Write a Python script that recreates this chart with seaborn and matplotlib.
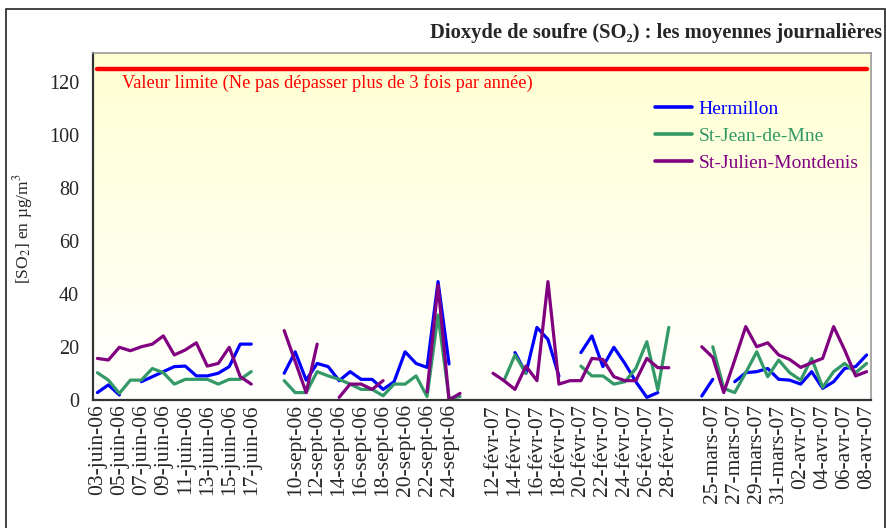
# Dioxyde de soufre - moyennes journalières
import numpy as np
import pandas as pd
import matplotlib.pyplot as plt
import seaborn as sns
from matplotlib.lines import Line2D
from matplotlib.patches import Rectangle

nan = np.nan

# catégories (jours), avec des cases vides entre les campagnes
dates = ([f"{d:02d}-juin-06" for d in range(3, 18)] + ["", ""]
         + [f"{d:02d}-sept-06" for d in range(9, 26)] + ["", ""]
         + [f"{d:02d}-févr-07" for d in range(12, 29)] + ["", ""]
         + [f"{d:02d}-mars-07" for d in range(24, 32)]
         + [f"{d:02d}-avr-07" for d in range(1, 9)])

hermillon = [2.8, 5.7, 1.9, nan, 6.9, 8.8, 10.7, 12.6, 12.8, 9.1, 9.1, 10.1, 12.6, 21.1, 21.1,
             nan, nan,
             10.1, 18.2, 7.5, 13.8, 12.6, 7.3, 10.7, 7.8, 7.8, 4.0, 6.9, 18.2, 13.8, 12.3, 44.7, 13.6, nan,
             nan, nan,
             nan, nan, 17.9, 10.1, 27.4, 22.9, 9.0, nan, 17.9, 24.2, 12.6, 19.9, 13.8, 6.9, 1.0, 2.8, nan,
             nan, nan,
             1.5, 7.8, nan, 6.9, 10.3, 10.7, 11.9, 7.8, 7.5, 6.0, 10.7, 4.4, 6.9, 11.9, 12.6, 17.0]

stjean = [10.3, 7.5, 2.5, 7.5, 7.5, 11.9, 10.3, 6.0, 7.8, 7.8, 7.8, 6.0, 7.8, 7.8, 10.7,
          nan, nan,
          7.3, 2.8, 2.8, 10.7, 9.1, 7.8, 6.0, 4.0, 4.0, 1.6, 6.0, 6.0, 9.1, 1.3, 32.1, 0.6, 1.3,
          nan, nan,
          nan, 7.3, 17.0, 10.1, nan, nan, nan, nan, 12.8, 9.1, 9.1, 6.0, 6.9, 11.9, 22.0, 3.8, 27.4,
          nan, nan,
          nan, 20.1, 4.4, 2.8, 10.3, 18.2, 8.8, 15.1, 10.3, 7.5, 15.7, 4.8, 10.7, 13.8, 10.3, 13.8]

stjulien = [15.7, 15.1, 19.9, 18.6, 20.1, 21.1, 24.2, 17.0, 18.9, 21.6, 12.8, 13.8, 19.9, 8.8, 6.0,
            nan, nan,
            26.2, 14.5, 2.8, 21.1, nan, 1.0, 6.0, 6.0, 4.0, 7.3, nan, nan, nan, 3.1, 43.4, 0.0, 2.5,
            nan, nan,
            10.1, 7.3, 4.0, 12.8, 7.3, 44.7, 6.0, 7.3, 7.3, 15.7, 15.3, 8.8, 7.3, 7.3, 15.7, 12.2, 12.2,
            nan, nan,
            20.1, 16.1, 2.8, 15.1, 27.7, 20.1, 21.6, 17.0, 15.3, 12.3, 14.1, 15.7, 27.7, 18.9, 9.1, 10.7]

limite = [125] * len(dates)

sites = ["Hermillon", "St-Jean-de-Mne", "St-Julien-Montdenis"]
couleurs = {"Hermillon": "#0000FF", "St-Jean-de-Mne": "#339966",
            "St-Julien-Montdenis": "#800080"}

# tableau long, un segment par suite de valeurs sans trou
rows = []
for site, vals in zip(sites, [hermillon, stjean, stjulien]):
    seg = 0
    for i, v in enumerate(vals):
        if np.isnan(v):
            seg += 1
            continue
        rows.append({"x": i, "val": v, "site": site, "seg": seg})
df = pd.DataFrame(rows)
df_lim = pd.DataFrame({"x": np.arange(len(dates)), "val": limite})

sns.set_style("white")
plt.rcParams["font.family"] = ["Liberation Serif", "DejaVu Serif"]
plt.rcParams["mathtext.fontset"] = "stix"

fig = plt.figure(figsize=(8.87, 5.28), dpi=100)
ax = fig.add_axes([93 / 887, 1 - 400 / 528, 778 / 887, 347 / 528])

xmin, xmax, ymax = -0.4, len(dates) - 0.6, 131
# fond dégradé jaune pâle -> blanc
grad = np.linspace(1, 0, 256).reshape(-1, 1)
cmap = sns.blend_palette(["#FFFFFF", "#FFFFD2"], as_cmap=True)
ax.imshow(grad, extent=[xmin, xmax, 0, ymax], aspect="auto", cmap=cmap,
          origin="upper", zorder=0)

sns.lineplot(data=df_lim, x="x", y="val", color="#FF0000", lw=3.2, ax=ax, zorder=3)
sns.lineplot(data=df, x="x", y="val", hue="site", units="seg", estimator=None,
             palette=couleurs, lw=2.3, legend=False, ax=ax, zorder=2)

ax.set_xlim(xmin, xmax)
ax.set_ylim(0, ymax)
ax.set_yticks(range(0, 121, 20))
ax.set_xticks(range(0, len(dates), 2))
ax.set_xticklabels(dates[::2], rotation=90, fontsize=15.5)
ax.tick_params(axis="y", labelsize=14.5, length=0, pad=10)
ax.tick_params(axis="x", length=0, pad=3)
ax.set_xlabel("")
ax.set_ylabel("[SO$_2$] en µg/m$^3$", fontsize=12.5)
ax.yaxis.set_label_coords(-0.074, 0.493)

for side in ["left", "bottom"]:
    ax.spines[side].set_color("#333333")
    ax.spines[side].set_linewidth(1.6)
for side in ["top", "right"]:
    ax.spines[side].set_color("#999999")
    ax.spines[side].set_linewidth(1.2)

ax.text(0.037, 0.914, "Valeur limite (Ne pas dépasser plus de 3 fois par année)",
        transform=ax.transAxes, color="#FF0000", fontsize=13.2, va="center")

handles = [Line2D([], [], color=couleurs[s], lw=2.6) for s in sites]
ax.legend(handles, sites, loc="upper left", bbox_to_anchor=(0.70, 0.913),
          frameon=False, fontsize=14, handlelength=1.9, handletextpad=0.35,
          labelspacing=0.48, labelcolor="linecolor")

fig.text(882 / 887, 1 - 33 / 528, "Dioxyde de soufre (SO₂) : les moyennes journalières",
         ha="right", va="center", fontsize=14.8, fontweight="bold")

fig.add_artist(Rectangle((6 / 887, -0.01), 879 / 887, 1.01 - 9 / 528,
                         transform=fig.transFigure, fill=False, lw=1.2,
                         edgecolor="#222222"))

fig.savefig("out.png", dpi=100)
